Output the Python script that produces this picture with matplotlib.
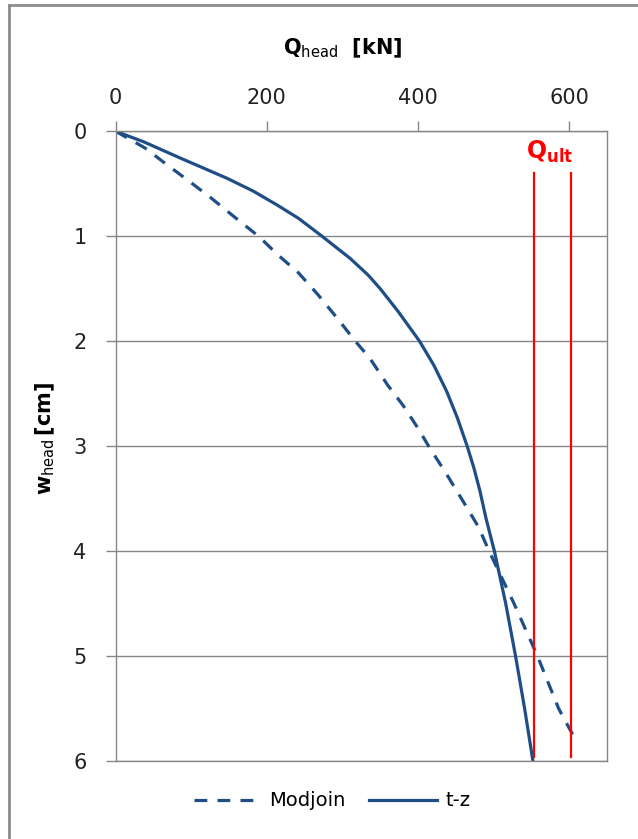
import matplotlib
matplotlib.use("Agg")
import matplotlib.pyplot as plt
from matplotlib.lines import Line2D

# ---- data ----
tz_w = [0, 0.1, 0.26, 0.35, 0.45, 0.57, 0.70, 0.83, 1.0, 1.21, 1.37, 1.5, 1.72, 1.84, 2.0,
        2.23, 2.48, 2.73, 3.0, 3.21, 3.43, 3.69, 4.0, 4.5, 5.0, 5.5, 6.0]
tz_Q = [0, 37, 87, 116, 148, 182, 213, 242, 273, 310, 334, 350, 374, 386, 402,
        421, 438, 452, 465, 474, 482, 490, 501, 516, 529, 541, 552]

mod_w = [0, 0.16, 0.32, 0.48, 0.64, 0.81, 1.0, 1.18, 1.35, 1.56, 1.78, 2.0, 2.16, 2.42, 2.61,
         2.83, 3.0, 3.27, 3.53, 3.77, 4.0, 4.5, 5.0, 5.5, 5.78]
mod_Q = [0, 39, 68, 98, 127, 156, 189, 215, 242, 268, 293, 317, 336, 360, 380,
         400, 414, 438, 460, 480, 494, 527, 558, 586, 607]

qult_values = [553, 603]
qult_w_range = [0.4, 5.96]

x_ticks = [0, 200, 400, 600]
y_ticks = [0, 1, 2, 3, 4, 5, 6]

# ---- figure ----
W, H = 638, 839
fig = plt.figure(figsize=(W / 100, H / 100), dpi=100)
ax = fig.add_axes([115.7 / W, 1 - 761 / H, (607 - 115.7) / W, (761 - 131.3) / H])

blue = '#1f4e87'
grey = '#868686'

ax.plot(mod_Q, mod_w, color=blue, lw=2.3, dashes=(4, 3.2), label='Modjoin')
ax.plot(tz_Q, tz_w, color=blue, lw=2.3, label='t-z')
for q in qult_values:
    ax.plot([q, q], qult_w_range, color='#ff0000', lw=1.6)

ax.text(574, 0.2, r'$\mathbf{Q}_{\mathbf{ult}}$', color='#ff0000', fontsize=17,
        ha='center', va='center')

ax.set_xlim(0, 650)
ax.set_ylim(6, 0)
ax.set_xticks(x_ticks)
ax.set_yticks(y_ticks)
ax.xaxis.tick_top()
ax.tick_params(axis='x', direction='out', length=7, width=1, color=grey,
               labelsize=15, pad=10, labelcolor='#222222')
ax.tick_params(axis='y', direction='out', length=7, width=1, color=grey,
               labelsize=15, pad=14, labelcolor='#222222')
ax.grid(axis='y', color=grey, lw=1)
ax.set_axisbelow(True)
for s in ax.spines.values():
    s.set_color(grey)
    s.set_linewidth(1)

fig.text(343 / W, 1 - 48 / H, r'$\mathbf{Q}_{\mathrm{head}}\ \ \mathbf{[kN]}$',
         fontsize=15, ha='center', va='center')
fig.text(45 / W, 1 - 438 / H, r'$\mathbf{w}_{\mathrm{head}}\,\mathbf{[cm]}$',
         fontsize=15, ha='center', va='center', rotation=90)

leg = fig.legend(loc='center', bbox_to_anchor=(332 / W, 1 - 801 / H), ncol=2,
                 frameon=False, fontsize=14, handlelength=3.5, handletextpad=0.4,
                 columnspacing=1.2)

# chart-area border (left and top visible)
fig.add_artist(Line2D([8.5 / W, 8.5 / W], [0, 1 - 4.5 / H], transform=fig.transFigure,
                      color='#8c8c8c', lw=2))
fig.add_artist(Line2D([8.5 / W, 1], [1 - 4.5 / H, 1 - 4.5 / H], transform=fig.transFigure,
                      color='#8c8c8c', lw=2))

fig.savefig('out.png', dpi=100)
